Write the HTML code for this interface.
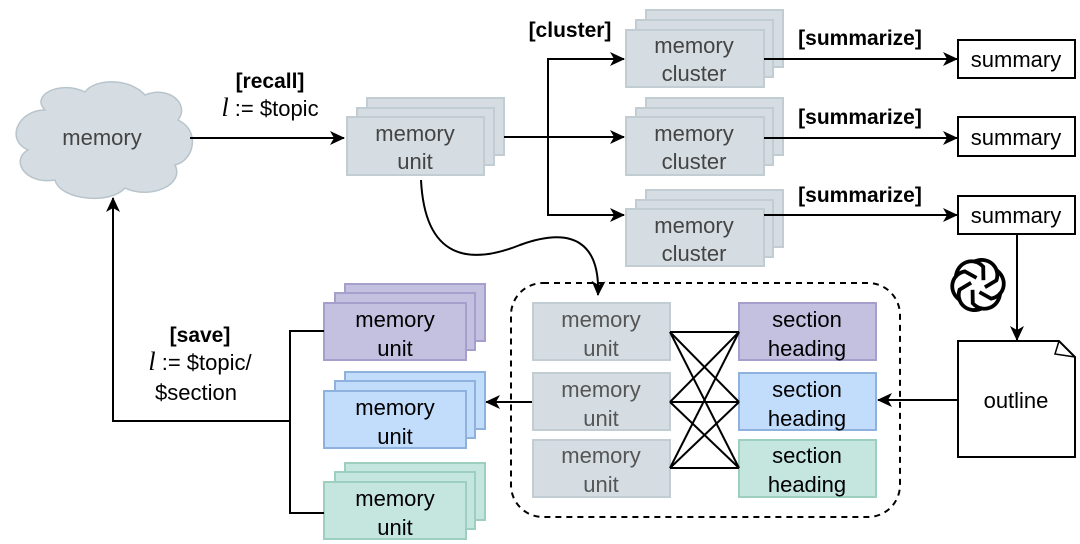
<!DOCTYPE html>
<html><head><meta charset="utf-8"><style>
html,body{margin:0;padding:0;background:#fff;}
svg{display:block;font-family:"Liberation Sans",sans-serif;}
</style></head><body>
<svg width="1080" height="544" viewBox="0 0 1080 544" xmlns="http://www.w3.org/2000/svg">
<defs>
<marker id="ah" markerWidth="15" markerHeight="14" refX="14" refY="7" orient="auto" markerUnits="userSpaceOnUse">
<path d="M0,0 L15,7 L0,14 L4,7 Z" fill="#000"/></marker>
</defs>
<!-- cloud -->
<path d="M45,110 C30,95 60,80 85,92 C95,78 130,78 145,95 C170,85 190,105 178,120 C200,130 195,160 175,165 C185,185 150,200 125,188 C110,205 60,200 55,180 C25,185 10,160 28,150 C5,140 18,110 45,110 Z" fill="#d5dde2" stroke="#b8c4cc" stroke-width="1.5"/>
<text x="102" y="145" font-size="22" fill="#444" text-anchor="middle">memory</text>
<line x1="190" y1="138" x2="344" y2="138" stroke="#000" stroke-width="2" marker-end="url(#ah)"/>
<text x="270" y="88" font-size="21" font-weight="bold" text-anchor="middle">[recall]</text>
<text x="270" y="116" font-size="22" text-anchor="middle"><tspan font-family="Liberation Serif" font-style="italic" font-size="26">l</tspan> := $topic</text>
<!-- memory unit stack -->
<g fill="#d5dde2" stroke="#c2ccd3" stroke-width="2">
<rect x="367" y="98" width="137" height="57"/><rect x="357" y="108" width="137" height="57"/><rect x="347" y="117" width="137" height="58"/></g>
<g font-size="22" fill="#444" text-anchor="middle">
<text x="415" y="141">memory</text><text x="415" y="169">unit</text></g>
<!-- split -->
<g stroke="#000" stroke-width="2" fill="none">
<line x1="504" y1="137" x2="624" y2="137" marker-end="url(#ah)"/>
<polyline points="610,59 548,59 548,215 610,215"/>
<line x1="600" y1="59" x2="624" y2="59" marker-end="url(#ah)"/>
<line x1="600" y1="215" x2="624" y2="215" marker-end="url(#ah)"/>
</g>
<text x="570" y="37" font-size="21" font-weight="bold" text-anchor="middle">[cluster]</text>
<!-- clusters -->
<g fill="#d5dde2" stroke="#c2ccd3" stroke-width="2">
<rect x="646" y="10" width="137" height="57"/><rect x="636" y="20" width="137" height="57"/><rect x="626" y="30" width="138" height="57"/>
<rect x="646" y="98" width="137" height="57"/><rect x="636" y="108" width="137" height="57"/><rect x="626" y="117" width="138" height="58"/>
<rect x="646" y="190" width="137" height="57"/><rect x="636" y="200" width="137" height="57"/><rect x="626" y="209" width="138" height="57"/>
</g>
<g font-size="22" fill="#444" text-anchor="middle">
<text x="694" y="53">memory</text><text x="694" y="81">cluster</text>
<text x="694" y="141">memory</text><text x="694" y="169">cluster</text>
<text x="694" y="233">memory</text><text x="694" y="261">cluster</text>
</g>
<g stroke="#000" stroke-width="2">
<line x1="764" y1="59" x2="957" y2="59" marker-end="url(#ah)"/>
<line x1="764" y1="138" x2="957" y2="138" marker-end="url(#ah)"/>
<line x1="764" y1="215" x2="957" y2="215" marker-end="url(#ah)"/>
<line x1="1017" y1="234" x2="1017" y2="340" marker-end="url(#ah)"/>
<line x1="958" y1="400" x2="878" y2="400" marker-end="url(#ah)"/>
<line x1="533" y1="402" x2="486" y2="402" marker-end="url(#ah)"/>
</g>
<g font-size="21" font-weight="bold" text-anchor="middle">
<text x="860" y="45">[summarize]</text><text x="860" y="124">[summarize]</text><text x="860" y="202">[summarize]</text>
</g>
<g fill="#fff" stroke="#000" stroke-width="2">
<rect x="958" y="40" width="117" height="38"/><rect x="958" y="117" width="117" height="39"/><rect x="958" y="196" width="117" height="38"/>
<path d="M958,341 L1059,341 L1075,357 L1075,457 L958,457 Z"/>
<path d="M1059,341 L1055,354 L1075,357" fill="none" stroke-width="1.5"/>
</g>
<g font-size="22" text-anchor="middle">
<text x="1016" y="67">summary</text><text x="1016" y="145">summary</text><text x="1016" y="223">summary</text>
<text x="1016" y="408">outline</text>
</g>
<!-- openai-ish logo -->
<g transform="translate(978,285) scale(1.15)" fill="none" stroke="#000" stroke-width="3.3">
<g id="pet"><path d="M-4,-20 C8,-26 20,-16 16,-4 L6,2"/></g>
<use href="#pet" transform="rotate(60)"/><use href="#pet" transform="rotate(120)"/><use href="#pet" transform="rotate(180)"/><use href="#pet" transform="rotate(240)"/><use href="#pet" transform="rotate(300)"/>
</g>
<!-- curve -->
<path d="M421,180 C425,260 470,265 520,245 C575,225 600,245 598,295" fill="none" stroke="#000" stroke-width="2" marker-end="url(#ah)"/>
<!-- dashed box -->
<rect x="511" y="283" width="389" height="234" rx="32" fill="none" stroke="#000" stroke-width="2" stroke-dasharray="6,5"/>
<g fill="#d5dde2" stroke="#c2ccd3" stroke-width="2">
<rect x="533" y="303" width="137" height="57"/><rect x="533" y="373" width="137" height="57"/><rect x="533" y="440" width="137" height="57"/></g>
<g font-size="22" fill="#555" text-anchor="middle">
<text x="601" y="327">memory</text><text x="601" y="356">unit</text>
<text x="601" y="397">memory</text><text x="601" y="426">unit</text>
<text x="601" y="463">memory</text><text x="601" y="492">unit</text>
</g>
<rect x="739" y="303" width="137" height="57" fill="#c3c0e0" stroke="#a49fcc" stroke-width="2"/>
<rect x="739" y="373" width="137" height="57" fill="#c2dcfb" stroke="#8fb1dd" stroke-width="2"/>
<rect x="739" y="440" width="137" height="57" fill="#c4e6df" stroke="#9ccfbf" stroke-width="2"/>
<g font-size="22" text-anchor="middle">
<text x="807" y="327">section</text><text x="807" y="356">heading</text>
<text x="807" y="397">section</text><text x="807" y="426">heading</text>
<text x="807" y="463">section</text><text x="807" y="492">heading</text>
</g>
<g stroke="#000" stroke-width="2">
<line x1="670" y1="332" x2="739" y2="332"/><line x1="670" y1="332" x2="739" y2="402"/><line x1="670" y1="332" x2="739" y2="468"/>
<line x1="670" y1="402" x2="739" y2="332"/><line x1="670" y1="402" x2="739" y2="402"/><line x1="670" y1="402" x2="739" y2="468"/>
<line x1="670" y1="468" x2="739" y2="332"/><line x1="670" y1="468" x2="739" y2="402"/><line x1="670" y1="468" x2="739" y2="468"/>
</g>
<!-- left stacks -->
<g fill="#c3c0e0" stroke="#a49fcc" stroke-width="2">
<rect x="345" y="284" width="140" height="57"/><rect x="335" y="293" width="140" height="57"/><rect x="324" y="303" width="142" height="57"/></g>
<g fill="#c2dcfb" stroke="#8fb1dd" stroke-width="2">
<rect x="345" y="372" width="140" height="57"/><rect x="335" y="381" width="140" height="57"/><rect x="324" y="391" width="142" height="57"/></g>
<g fill="#c4e6df" stroke="#9ccfbf" stroke-width="2">
<rect x="345" y="463" width="140" height="57"/><rect x="335" y="472" width="140" height="57"/><rect x="324" y="482" width="142" height="57"/></g>
<g font-size="22" text-anchor="middle">
<text x="395" y="327">memory</text><text x="395" y="356">unit</text>
<text x="395" y="415">memory</text><text x="395" y="444">unit</text>
<text x="395" y="506">memory</text><text x="395" y="535">unit</text>
</g>
<g stroke="#000" stroke-width="2" fill="none">
<polyline points="324,331 290,331 290,513 324,513"/>
<polyline points="290,421 113,421 113,198" marker-end="url(#ah)"/>
</g>
<text x="200" y="342" font-size="21" font-weight="bold" text-anchor="middle">[save]</text>
<text x="200" y="370" font-size="22" text-anchor="middle"><tspan font-family="Liberation Serif" font-style="italic" font-size="26">l</tspan> := $topic/</text>
<text x="196" y="400" font-size="22" text-anchor="middle">$section</text>
</svg>
</body></html>
